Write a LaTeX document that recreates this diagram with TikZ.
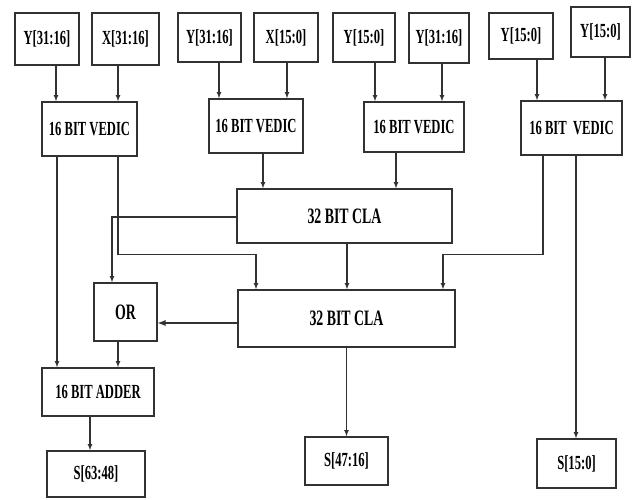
\documentclass[tikz,border=0pt]{standalone}
\usepackage{fontspec}
\newfontfamily\blockfont{Liberation Serif}[FakeStretch=0.63]
\usepackage{tikz}
\usetikzlibrary{arrows,calc}
\definecolor{wiregray}{RGB}{50,50,50}

\begin{document}
\begin{tikzpicture}[x=1pt,y=-1pt,
    blk/.style={draw=wiregray,line width=1.4pt,fill=white,inner sep=0pt,
        font=\blockfont\bfseries\fontsize{20}{22}\selectfont},
    bigblk/.style={blk,font=\blockfont\bfseries\fontsize{22}{24}\selectfont},
    arr/.style={-latex,line width=1.1pt,wiregray}]
    \useasboundingbox (0,0) rectangle (633,499);

    % Input operands
    \node[blk,minimum width=64pt,minimum height=52pt] (inA) at (47,39) {Y[31:16]};
    \node[blk,minimum width=67pt,minimum height=52pt] (inB) at (125.5,39) {X[31:16]};
    \node[blk,minimum width=63pt,minimum height=49pt] (inC) at (209.5,37.5) {Y[31:16]};
    \node[blk,minimum width=64pt,minimum height=49pt] (inD) at (286,37.5) {X[15:0]};
    \node[blk,minimum width=62pt,minimum height=49pt] (inE) at (364,37.5) {Y[15:0]};
    \node[blk,minimum width=60pt,minimum height=50pt] (inF) at (439,38) {Y[31:16]};
    \node[blk,minimum width=64pt,minimum height=46pt] (inG) at (521,36) {Y[15:0]};
    \node[blk,minimum width=59pt,minimum height=50pt] (inH) at (600.5,32) {Y[15:0]};

    % 16 bit vedic multipliers
    \node[blk,minimum width=95pt,minimum height=54pt] (vedA) at (89.5,129) {16 BIT VEDIC};
    \node[blk,minimum width=94pt,minimum height=54pt] (vedB) at (256,126) {16 BIT VEDIC};
    \node[blk,minimum width=100pt,minimum height=50pt] (vedC) at (414,127) {16 BIT VEDIC};
    \node[blk,minimum width=101pt,minimum height=54pt] (vedD) at (571.5,128) {16 BIT\ \ VEDIC};

    % Carry look-ahead adders, OR and adder
    \node[bigblk,minimum width=215pt,minimum height=54pt] (claA) at (344.5,216) {32 BIT CLA};
    \node[bigblk,minimum width=217pt,minimum height=57pt] (claB) at (346.5,318.5) {32 BIT CLA};
    \node[bigblk,minimum width=63pt,minimum height=58pt] (orG) at (125.5,312) {OR};
    \node[blk,minimum width=112pt,minimum height=48pt] (addA) at (98,392) {16 BIT ADDER};

    % Outputs
    \node[blk,minimum width=98pt,minimum height=46pt] (outA) at (96,474) {S[63:48]};
    \node[blk,minimum width=83pt,minimum height=48pt] (outB) at (346.5,461) {S[47:16]};
    \node[blk,minimum width=79pt,minimum height=49pt] (outC) at (576.5,463.5) {S[15:0]};

    % Inputs into vedic blocks
    \draw[arr] ([xshift=9pt]inA.south) -- ([xshift=9pt]inA.south |- vedA.north);
    \draw[arr] ([xshift=-7.5pt]inB.south) -- ([xshift=-7.5pt]inB.south |- vedA.north);
    \draw[arr] ([xshift=9.5pt]inC.south) -- ([xshift=9.5pt]inC.south |- vedB.north);
    \draw[arr] ([xshift=1pt]inD.south) -- ([xshift=1pt]inD.south |- vedB.north);
    \draw[arr] ([xshift=11pt]inE.south) -- ([xshift=11pt]inE.south |- vedC.north);
    \draw[arr] ([xshift=3pt]inF.south) -- ([xshift=3pt]inF.south |- vedC.north);
    \draw[arr] ([xshift=16pt]inG.south) -- ([xshift=16pt]inG.south |- vedD.north);
    \draw[arr] ([xshift=4.5pt]inH.south) -- ([xshift=4.5pt]inH.south |- vedD.north);

    % Partial products
    \draw[arr] ([xshift=7pt]vedB.south) -- ([xshift=7pt]vedB.south |- claA.north);
    \draw[arr] ([xshift=-18pt]vedC.south) -- ([xshift=-18pt]vedC.south |- claA.north);
    \draw[arr] ([xshift=-32.5pt]vedA.south) -- ([xshift=-32.5pt]vedA.south |- addA.north);
    \draw[arr] ([xshift=28.5pt]vedA.south) -- ++(0,98) -| ([xshift=-90.5pt]claB.north);
    \draw[arr] ([xshift=-28.5pt]vedD.south) -- ++(0,99) -| ([xshift=96.5pt]claB.north);
    \draw[arr] ([xshift=4.5pt]vedD.south) -- ([xshift=4.5pt]vedD.south |- outC.north);

    % Carries and sums
    \draw[arr] ([yshift=-1pt]claA.west) -| ([xshift=-13.5pt]orG.north);
    \draw[arr] ([xshift=2.5pt]claA.south) -- ([xshift=2.5pt]claA.south |- claB.north);
    \draw[arr,line width=1.7pt] ([yshift=-4.5pt]claB.west) -- ([yshift=-4.5pt]claB.west -| orG.east);
    \draw[arr] ([xshift=-7.5pt]orG.south) -- ([xshift=-7.5pt]orG.south |- addA.north);
    \draw[arr] ([xshift=-8pt]addA.south) -- ([xshift=-8pt]addA.south |- outA.north);
    \draw[arr] (claB.south) -- (claB.south |- outB.north);
\end{tikzpicture}
\end{document}
